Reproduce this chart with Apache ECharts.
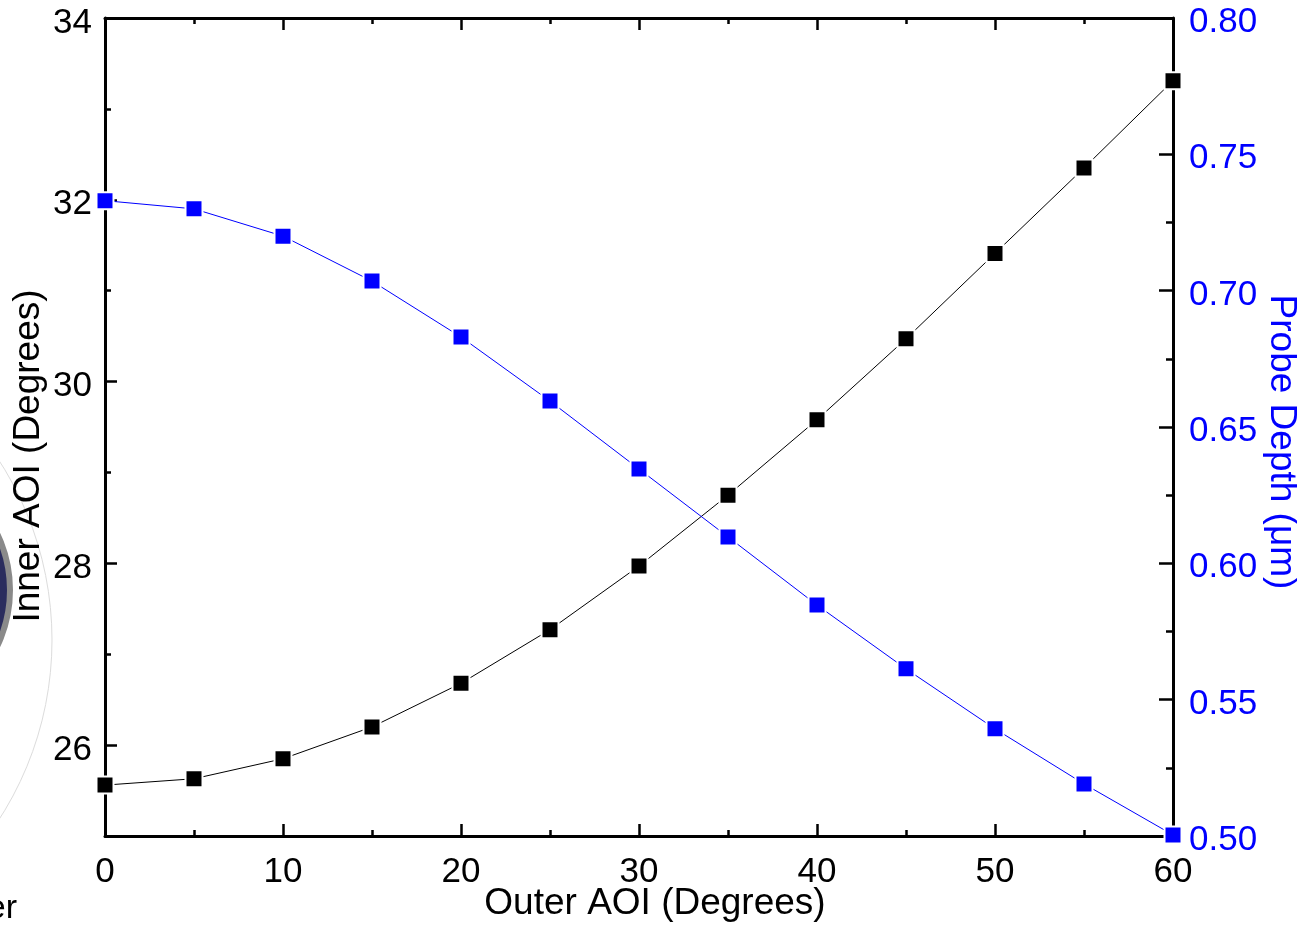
<!DOCTYPE html>
<html>
<head>
<meta charset="utf-8">
<style>
  html, body { margin: 0; padding: 0; background: #fff; }
  #chart { width: 1297px; height: 930px; }
</style>
<script src="https://cdn.jsdelivr.net/npm/echarts@6/dist/echarts.min.js"></script>
</head>
<body>
<div id="chart"></div>
<script>
// ---- data ----
const outerAOI = [0, 5, 10, 15, 20, 25, 30, 35, 40, 45, 50, 55, 60];
const innerAOI = [25.56, 25.63, 25.85, 26.20, 26.68, 27.27, 27.97, 28.75, 29.58, 30.47, 31.41, 32.35, 33.31];
const probeDepth = [0.733, 0.730, 0.720, 0.7035, 0.683, 0.6595, 0.6346, 0.6097, 0.5847, 0.5613, 0.5393, 0.5191, 0.5004];
const leftMajorTicks = [26, 28, 30, 32, 34];
const leftMinorTicks = [25, 27, 29, 31, 33];

const FONT = "'Liberation Sans', Arial, sans-serif";
const BLUE = '#0000ff';

const chart = echarts.init(document.getElementById('chart'));

const innerData = outerAOI.map((x, i) => [x, innerAOI[i]]);
const probeData = outerAOI.map((x, i) => [x, probeDepth[i]]);

const axisLine = { show: true, onZero: false, lineStyle: { color: '#000', width: 3 } };

chart.setOption({
  animation: false,
  backgroundColor: '#fff',
  grid: { left: 105, right: 124, top: 18, bottom: 94, containLabel: false, outerBoundsMode: 'none' },
  xAxis: [
    {
      type: 'value', position: 'bottom', min: 0, max: 60, interval: 10,
      axisLine: axisLine,
      axisTick: { show: true, inside: true, length: 12, lineStyle: { color: '#000', width: 2.5 } },
      minorTick: { show: true, splitNumber: 2, length: 6, lineStyle: { color: '#000', width: 2.5 } },
      splitLine: { show: false },
      axisLabel: { show: true, margin: 19, color: '#000', fontSize: 35, fontFamily: FONT }
    },
    {
      type: 'value', position: 'top', min: 0, max: 60, interval: 10,
      axisLine: axisLine,
      axisTick: { show: true, inside: true, length: 12, lineStyle: { color: '#000', width: 2.5 } },
      minorTick: { show: true, splitNumber: 2, length: 6, lineStyle: { color: '#000', width: 2.5 } },
      splitLine: { show: false },
      axisLabel: { show: false }
    }
  ],
  yAxis: [
    {
      type: 'value', position: 'left', min: 25, max: 34, interval: 1,
      axisLine: axisLine,
      axisTick: { show: true, inside: true, length: 12, customValues: leftMajorTicks, lineStyle: { color: '#000', width: 2.5 } },
      splitLine: { show: false },
      axisLabel: { show: true, margin: 13, customValues: leftMajorTicks,
        formatter: v => '{a|' + v + '}',
        rich: { a: { color: '#000', fontSize: 35, fontFamily: FONT, padding: [10, 0, 0, 0] } } }
    },
    {
      type: 'value', position: 'left', min: 25, max: 34, interval: 1,
      axisLine: { show: false },
      axisTick: { show: true, inside: true, length: 6, customValues: leftMinorTicks, lineStyle: { color: '#000', width: 2.5 } },
      splitLine: { show: false },
      axisLabel: { show: false }
    },
    {
      type: 'value', position: 'right', min: 0.5, max: 0.8, interval: 0.05,
      axisLine: axisLine,
      axisTick: { show: true, inside: true, length: 14, lineStyle: { color: '#000', width: 2.5 } },
      minorTick: { show: true, splitNumber: 2, length: 7, lineStyle: { color: '#000', width: 2.5 } },
      splitLine: { show: false },
      axisLabel: { show: true, margin: 16,
        formatter: v => '{a|' + v.toFixed(2) + '}',
        rich: { a: { color: BLUE, fontSize: 35, fontFamily: FONT, padding: [9, 0, 0, 0] } } }
    }
  ],
  series: [
    {
      type: 'line', name: 'Inner AOI', xAxisIndex: 0, yAxisIndex: 0,
      data: innerData, clip: false,
      symbol: 'rect', symbolSize: 17,
      lineStyle: { color: '#000', width: 1 },
      itemStyle: { color: '#000', borderColor: '#fff', borderWidth: 2 },
      z: 5
    },
    {
      type: 'line', name: 'Probe Depth', xAxisIndex: 0, yAxisIndex: 2,
      data: probeData, clip: false,
      symbol: 'rect', symbolSize: 17,
      lineStyle: { color: BLUE, width: 1 },
      itemStyle: { color: BLUE, borderColor: '#fff', borderWidth: 2 },
      z: 5
    }
  ],
  graphic: [
    {
      type: 'circle', z: -10, silent: true,
      shape: { cx: -279, cy: 640, r: 331 },
      style: { fill: 'none', stroke: '#dcdcdc', lineWidth: 1 }
    },
    {
      type: 'circle', z: -9, silent: true,
      shape: { cx: -120, cy: 590, r: 130 },
      style: { fill: '#2b2d5e', stroke: '#8a8a8a', lineWidth: 6 }
    },
    {
      type: 'text', z: 10, x: 17, y: 926,
      style: { text: 'er', fill: '#000', fontSize: 34, fontFamily: FONT, align: 'right', verticalAlign: 'bottom' }
    },
    {
      type: 'text', z: 10, x: 655, y: 904,
      style: { text: 'Outer AOI (Degrees)', fill: '#000', fontSize: 37, fontFamily: FONT, align: 'center', verticalAlign: 'middle' }
    },
    {
      type: 'text', z: 10, x: 29, y: 456, rotation: Math.PI / 2,
      style: { text: 'Inner AOI (Degrees)', fill: '#000', fontSize: 37, fontFamily: FONT, align: 'center', verticalAlign: 'middle' }
    },
    {
      type: 'text', z: 10, x: 1281, y: 442, rotation: -Math.PI / 2,
      style: { text: 'Probe Depth (μm)', fill: BLUE, fontSize: 37, fontFamily: FONT, align: 'center', verticalAlign: 'middle' }
    }
  ]
});
</script>
</body>
</html>
